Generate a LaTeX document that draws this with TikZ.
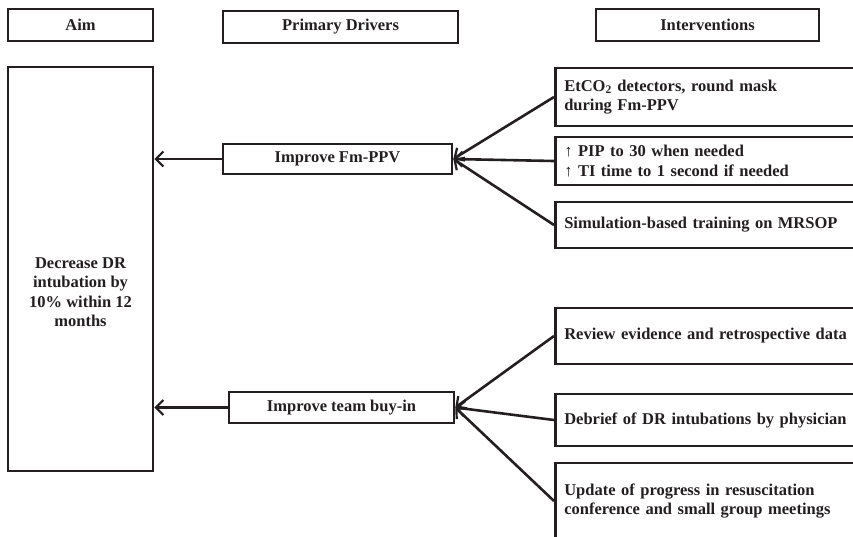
\documentclass[tikz,border=0pt]{standalone}
\usepackage{fontspec}
\setmainfont{Liberation Serif}
\usetikzlibrary{arrows.meta}
\definecolor{ink}{HTML}{231F20}

\begin{document}
\begin{tikzpicture}[x=1pt,y=-1pt,
  box/.style={draw=ink,line width=2.6pt,text=ink,font=\fontsize{16.5}{19.5}\selectfont\bfseries,inner sep=0pt},
  ivbox/.style={box,anchor=west,text width=300pt,align=left,inner xsep=9pt,minimum height=#1},
  link/.style={draw=ink,line width=2.6pt,-{Straight Barb[length=7.5pt,width=15pt,line width=2.2pt]}}]
\useasboundingbox (0,0) rectangle (853,536);
% column heads
\node[box,minimum width=145pt,minimum height=32pt] (hAim) at (80.5,25) {Aim};
\node[box,minimum width=235pt,minimum height=32pt] (hDrv) at (340.5,27) {Primary Drivers};
\node[box,minimum width=223pt,minimum height=32pt] (hInt) at (707.5,25) {Interventions};
% aim
\node[box,minimum width=145pt,minimum height=404pt] (aim) at (80.5,269) {};
\node[box,draw=none,align=center] (aimText) at (80.5,292) {Decrease DR\\intubation by\\10\% within 12\\months};
% primary drivers
\node[box,minimum width=229pt,minimum height=30pt] (fm) at (337.5,159) {Improve Fm-PPV};
\node[box,minimum width=225pt,minimum height=31pt] (team) at (341.5,407.5) {Improve team buy-in};
% interventions
\node[ivbox=58pt] (iv1) at (554,97) {EtCO\textsubscript{2} detectors, round mask\\during Fm-PPV};
\node[ivbox=48pt] (iv2) at (554,161) {↑ PIP to 30 when needed\\↑ TI time to 1 second if needed};
\node[ivbox=46pt] (iv3) at (554,225) {Simulation-based training on MRSOP};
\node[ivbox=56pt] (iv4) at (554,336) {Review evidence and retrospective data};
\node[ivbox=52pt] (iv5) at (554,420) {Debrief of DR intubations by physician};
\node[ivbox=76pt] (iv6) at (554,501) {Update of progress in resuscitation\\conference and small group meetings};
% connectors
\draw[link] (fm.west) -- (fm.west -| aim.east);
\draw[link] (team.west) -- (team.west -| aim.east);
\draw[link] (iv1.west) -- (fm.east);
\draw[link] (iv2.west) -- (fm.east);
\draw[link] (iv3.west) -- (fm.east);
\draw[link] (iv4.west) -- (team.east);
\draw[link] (iv5.west) -- (team.east);
\draw[link] (iv6.west) -- (team.east);
\end{tikzpicture}
\end{document}
